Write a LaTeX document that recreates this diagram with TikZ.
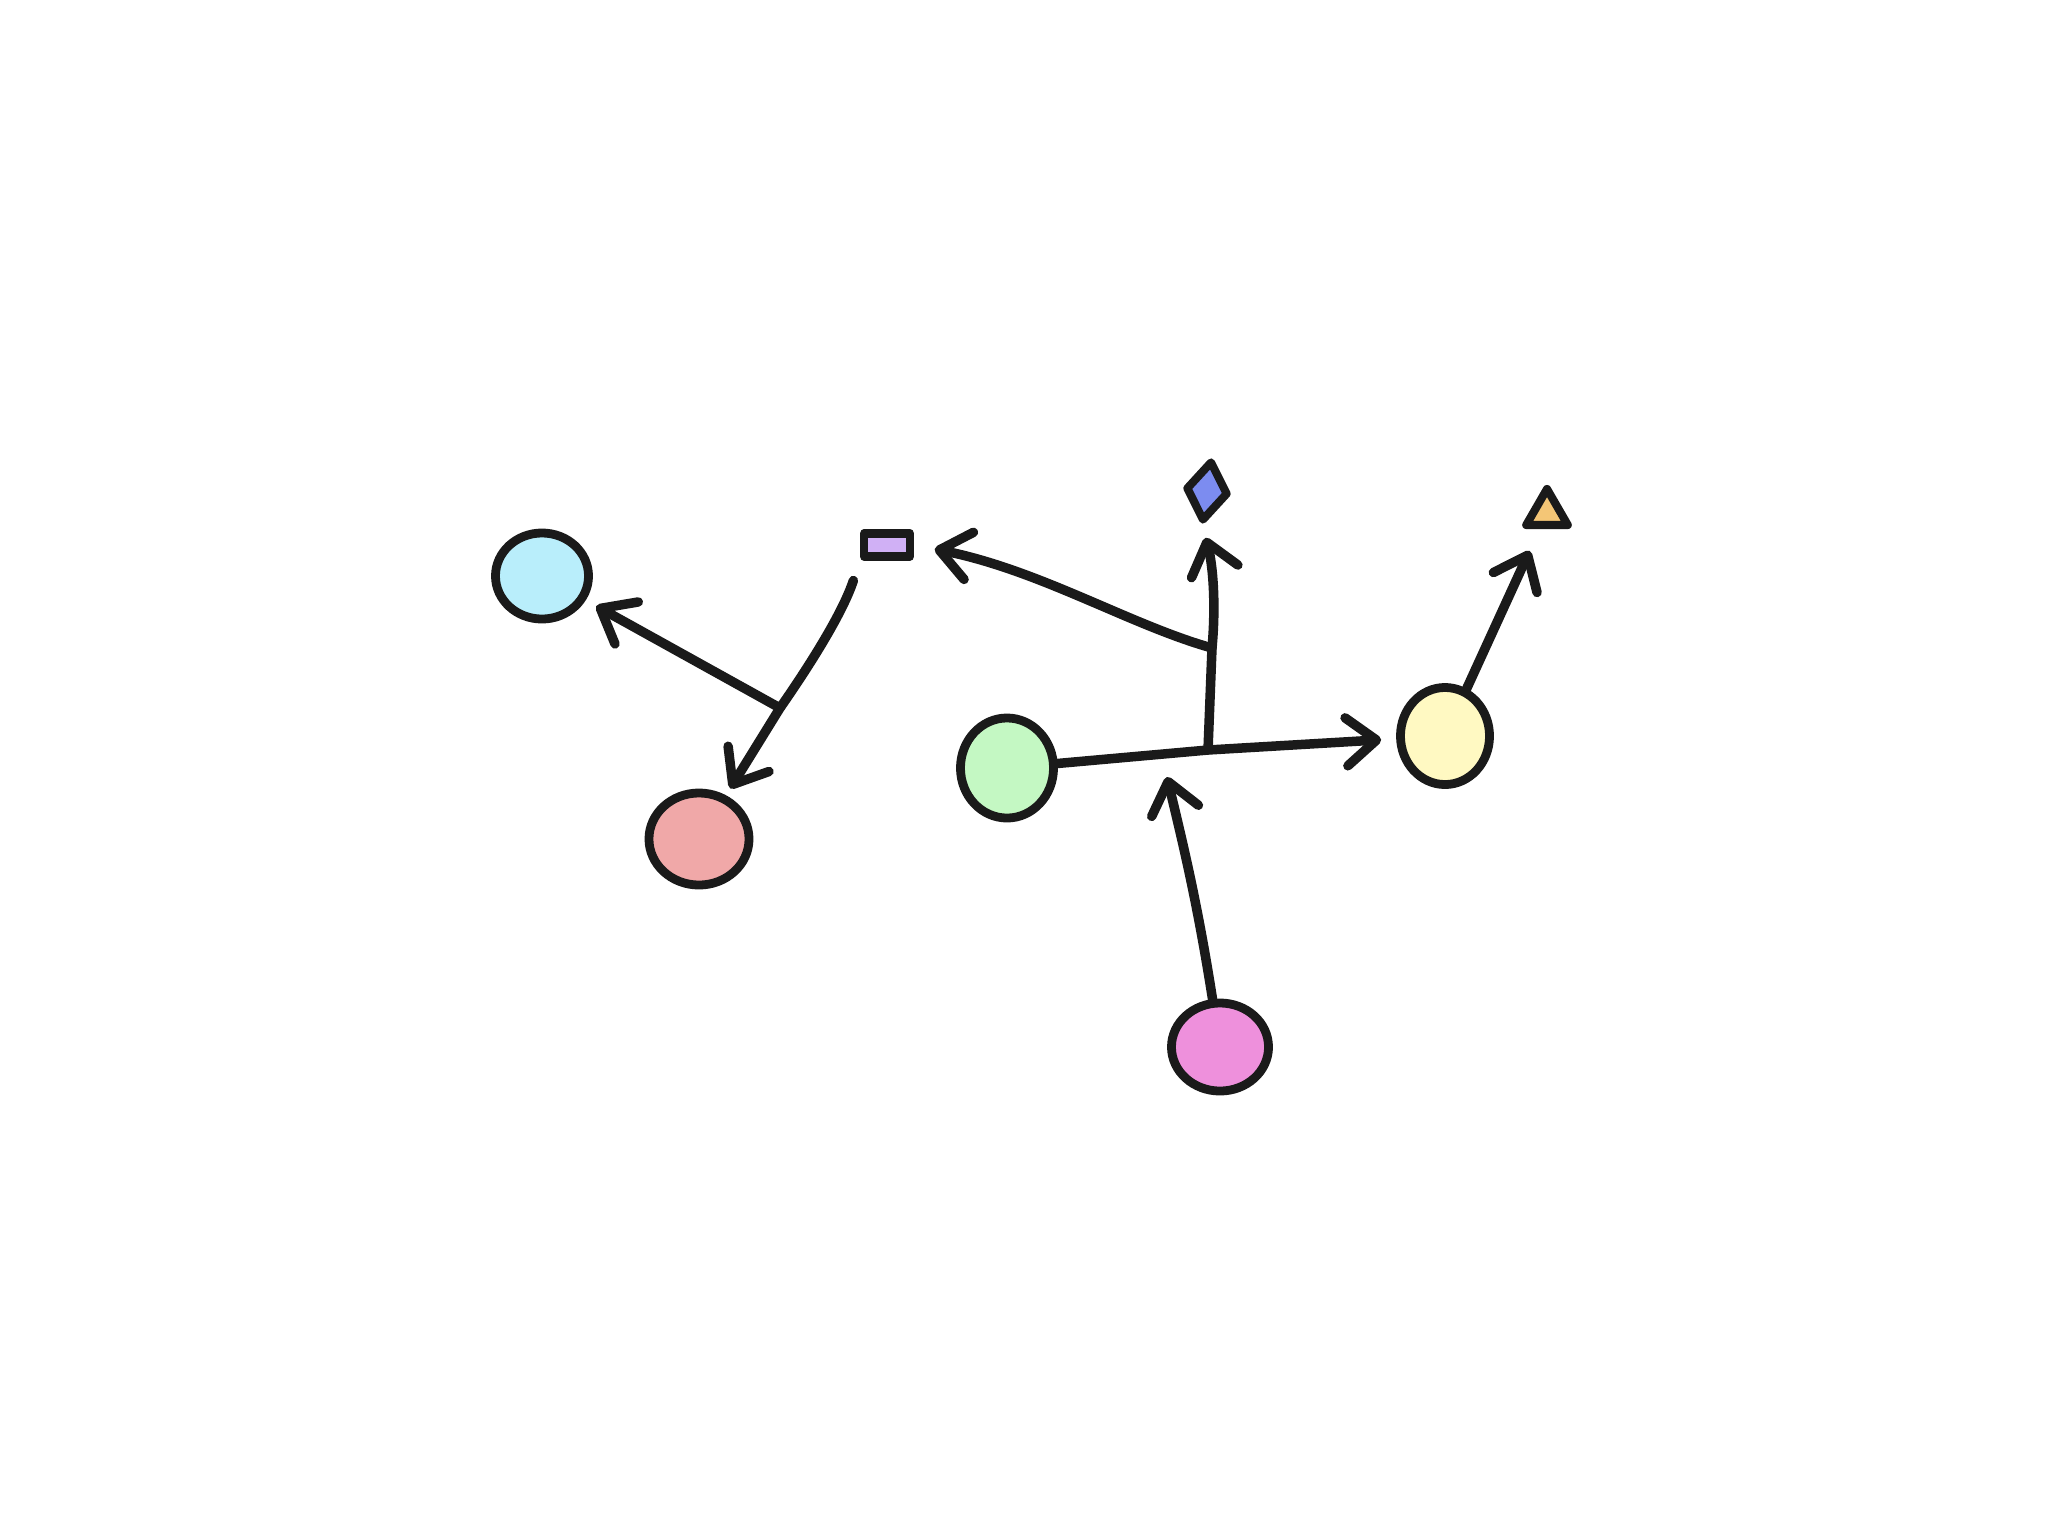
\documentclass[tikz,border=0pt]{standalone}
\usetikzlibrary{shapes.geometric,arrows.meta}
\definecolor{ink}{HTML}{1A1A1A}
\definecolor{cyanf}{HTML}{B9EEFB}
\definecolor{lavf}{HTML}{D0B0F5}
\definecolor{redf}{HTML}{F0A8A8}
\definecolor{greenf}{HTML}{C4F8C3}
\definecolor{yelf}{HTML}{FFF9C2}
\definecolor{pinkf}{HTML}{EE90DC}
\definecolor{bluef}{HTML}{7C8CF0}
\definecolor{orangef}{HTML}{F4C676}
\tikzset{
  blob/.style={ellipse, draw=ink, line width=2.5pt, inner sep=0pt},
  smallshape/.style={draw=ink, line width=2.3pt, inner sep=0pt, line join=round},
  conn/.style={draw=ink, line width=2.7pt, line cap=round, line join=round},
  arr/.style={conn, -{Straight Barb[length=0.3cm, width=0.48cm, line cap=round, line join=round]}}
}
\begin{document}
\begin{tikzpicture}[x=0.01cm, y=-0.01cm]
\useasboundingbox[fill=white] (0,0) rectangle (2048,1536);

% nodes
\node[blob, fill=cyanf, minimum width=0.93cm, minimum height=0.86cm] (cyan) at (542,576) {};
\node[smallshape, rectangle, fill=lavf, minimum width=0.46cm, minimum height=0.23cm] (rect) at (887,545) {};
\node[blob, fill=redf, minimum width=1.0cm, minimum height=0.92cm] (red) at (699,839) {};
\node[blob, fill=greenf, minimum width=0.93cm, minimum height=1.0cm] (green) at (1007,768) {};
\node[blob, fill=yelf, minimum width=0.89cm, minimum height=0.97cm] (yellow) at (1445,736) {};
\node[blob, fill=pinkf, minimum width=0.97cm, minimum height=0.88cm] (pink) at (1220,1047) {};
\node[smallshape, diamond, fill=bluef, minimum width=0.43cm, minimum height=0.61cm, rotate=-8] (diam) at (1207,491) {};
\node[smallshape, regular polygon, regular polygon sides=3, fill=orangef, minimum size=0.48cm] (tri) at (1547,513) {};

% junctions and free end
\coordinate (J1) at (1208,750);
\coordinate (J2) at (1212,648);
\coordinate (J3) at (780,708);
\coordinate (T) at (1167,777);

% connectors
\draw[arr, shorten >=0.15cm] (green) -- (J1) -- (yellow);
\draw[arr, shorten >=0.13cm] (J1) -- (J2) .. controls (1216,605) and (1213,565) .. (diam.south);
\draw[arr, shorten >=0.21cm] (J2) .. controls (1130,625) and (1040,570) .. (rect.east);
\draw[arr, shorten <=0.21cm, shorten >=0.08cm] (rect.south west) .. controls (843,612) and (812,662) .. (J3) -- (red);
\draw[arr, shorten >=0.12cm] (J3) -- (cyan);
\draw[arr] (pink) .. controls (1197,900) and (1182,840) .. (T);
\draw[arr, shorten >=0.24cm] (yellow) -- (tri);
\end{tikzpicture}
\end{document}
